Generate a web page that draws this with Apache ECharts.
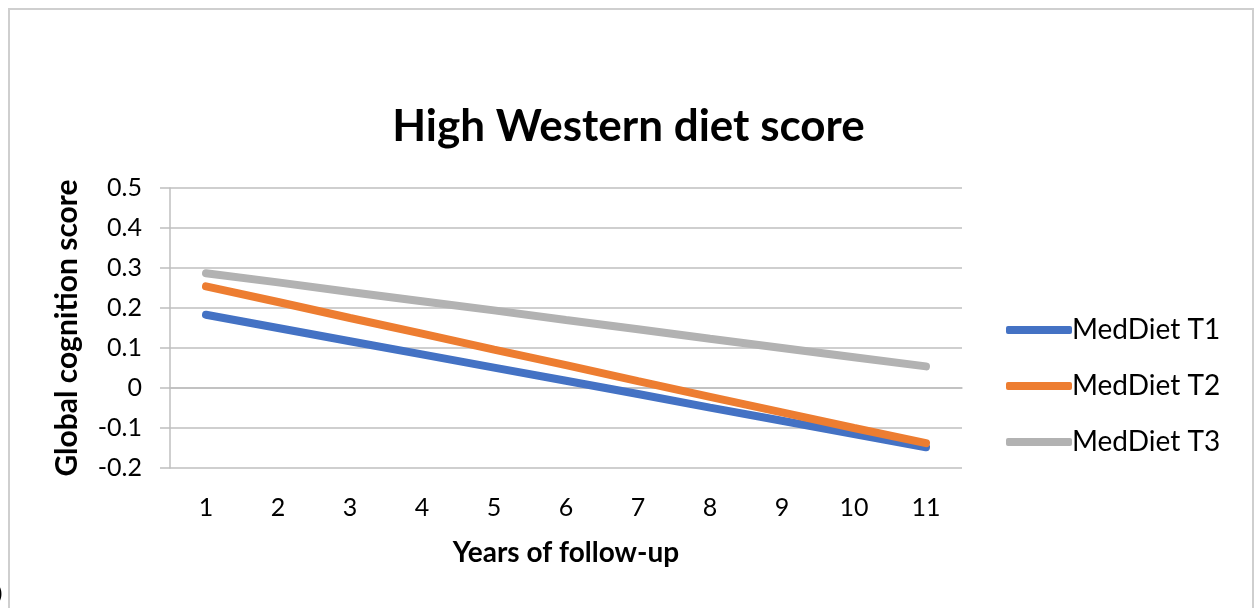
<!DOCTYPE html>
<html>
<head>
<meta charset="utf-8">
<script src="https://cdn.jsdelivr.net/npm/echarts@6/dist/echarts.min.js"></script>
<style>
  html, body { margin: 0; padding: 0; background: #fff; overflow: hidden; }
  .frame {
    position: absolute; left: 8px; top: 8px; width: 1242px; height: 640px;
    border: 2px solid #cfcfcf;
  }
  #chart { position: absolute; left: 0; top: 0; width: 1257px; height: 608px; }
</style>
</head>
<body>
<div class="frame"></div>
<div id="chart"></div>
<script>
const years = ['1', '2', '3', '4', '5', '6', '7', '8', '9', '10', '11']
const medDietT1 = [0.183, 0.150, 0.117, 0.084, 0.051, 0.018, -0.015, -0.049, -0.082, -0.115, -0.148]
const medDietT2 = [0.254, 0.215, 0.175, 0.136, 0.096, 0.057, 0.017, -0.022, -0.061, -0.100, -0.138]
const medDietT3 = [0.287, 0.264, 0.240, 0.217, 0.194, 0.170, 0.147, 0.123, 0.100, 0.077, 0.054]

const font = 'Lato, "Open Sans", sans-serif'
const gridColor = '#bfbfbf'

const chart = echarts.init(document.getElementById('chart'))

function lineSeries(name, data, color) {
  return {
    name: name,
    type: 'line',
    data: data,
    symbol: 'none',
    lineStyle: { color: color, width: 8, cap: 'round' },
    itemStyle: { color: color },
    emphasis: { disabled: true }
  }
}

chart.setOption({
  animation: false,
  title: {
    text: 'High Western diet score',
    left: 'center',
    top: 100,
    textStyle: { fontFamily: font, fontSize: 44, fontWeight: 'bold', color: '#000' }
  },
  legend: {
    orient: 'vertical',
    left: 1001,
    top: 311,
    itemWidth: 66,
    itemHeight: 8,
    itemGap: 28,
    icon: 'roundRect',
    textStyle: { fontFamily: font, fontSize: 28, color: '#000', padding: [0, 0, 0, -5] },
    data: ['MedDiet T1', 'MedDiet T2', 'MedDiet T3']
  },
  grid: { left: 170, right: 295, top: 188, bottom: 140 },
  xAxis: {
    type: 'category',
    data: years,
    boundaryGap: true,
    name: 'Years of follow-up',
    nameLocation: 'middle',
    nameGap: 71,
    nameTextStyle: { fontFamily: font, fontSize: 28, fontWeight: 'bold', color: '#000' },
    axisLine: { show: true, lineStyle: { color: gridColor, width: 1.5 } },
    axisTick: { show: false },
    axisLabel: { fontFamily: font, fontSize: 25, color: '#000', margin: 27 }
  },
  yAxis: {
    type: 'value',
    min: -0.2,
    max: 0.5,
    interval: 0.1,
    name: 'Global cognition score',
    nameLocation: 'middle',
    nameGap: 88,
    nameTextStyle: { fontFamily: font, fontSize: 30, fontWeight: 'bold', color: '#000' },
    axisLine: { show: true, lineStyle: { color: gridColor, width: 1.5 } },
    axisTick: { show: true, length: 10, lineStyle: { color: gridColor, width: 1.5 } },
    axisLabel: {
      fontFamily: font, fontSize: 25, color: '#000', margin: 28,
      formatter: v => (Math.abs(v) < 1e-9 ? '0' : v.toFixed(1))
    },
    splitLine: { lineStyle: { color: gridColor, width: 1.5 } }
  },
  graphic: [
    { type: 'text', left: -3, top: 584, style: { text: ')', fontFamily: font, fontSize: 20, fill: '#000' } }
  ],
  series: [
    lineSeries('MedDiet T1', medDietT1, '#4472C4'),
    lineSeries('MedDiet T2', medDietT2, '#ED7D31'),
    lineSeries('MedDiet T3', medDietT3, '#B2B2B2')
  ]
})
</script>
</body>
</html>
